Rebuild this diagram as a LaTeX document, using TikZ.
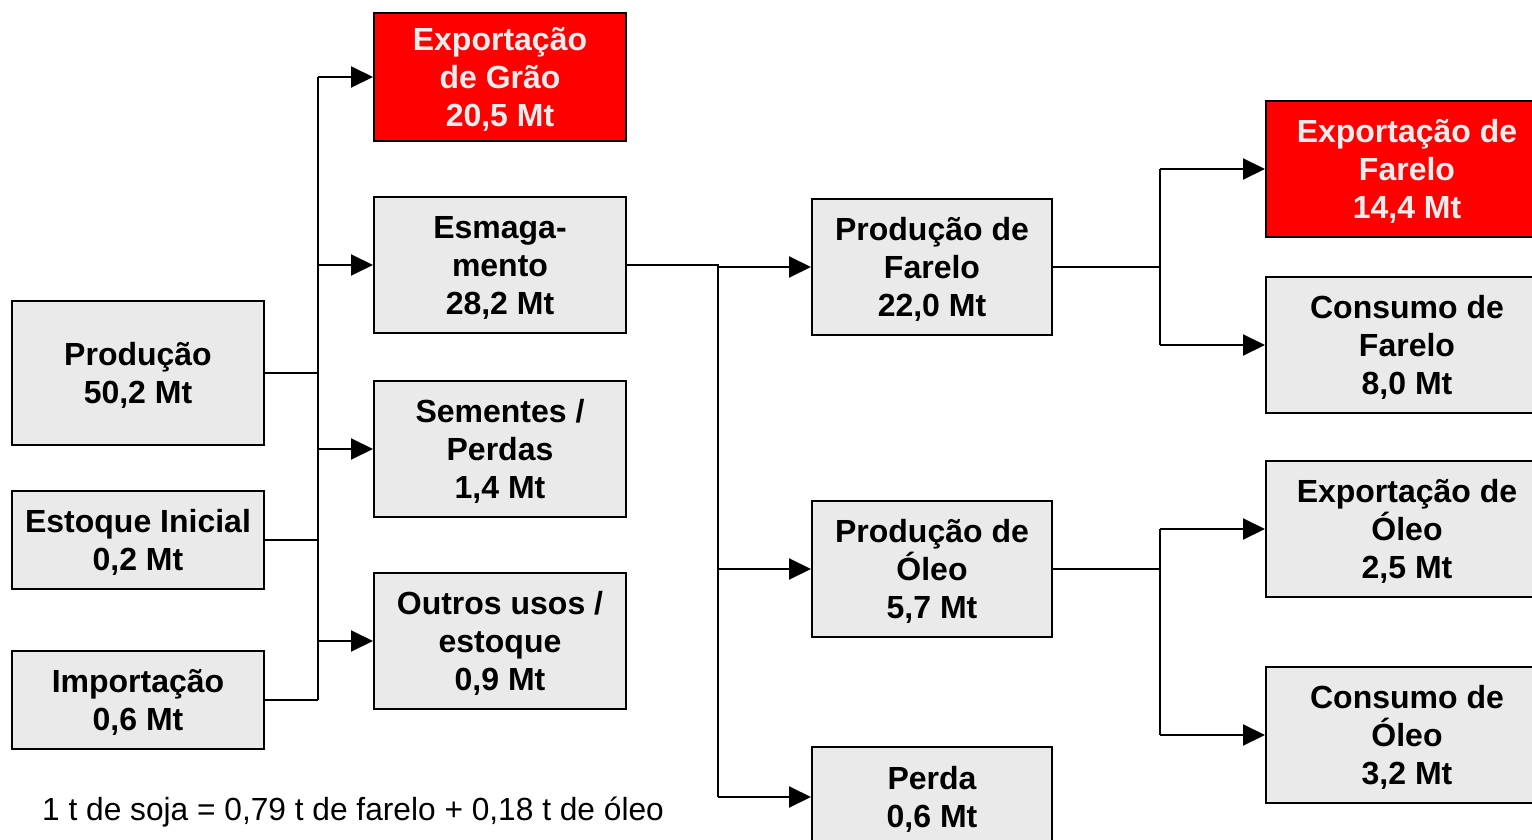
\documentclass[tikz,border=0pt]{standalone}
\usepackage{fontspec}
\setmainfont{Liberation Sans}
\newfontfamily\notefont[FakeStretch=0.99]{Liberation Sans}
\usetikzlibrary{arrows.meta}
\definecolor{boxgray}{HTML}{EAEAEA}
\definecolor{boxred}{HTML}{FF0000}
\definecolor{lighttext}{HTML}{EDEDED}
\begin{document}
\begin{tikzpicture}[x=0.5pt,y=-0.5pt,
  box/.style={draw=black, line width=1pt, fill=boxgray, align=center, inner sep=0pt,
    text depth=0pt,
    font=\fontsize{16pt}{19pt}\selectfont\bfseries, text=black},
  redbox/.style={box, fill=boxred, text=lighttext},
  conn/.style={line width=1pt},
  arr/.style={line width=1pt, -{Triangle[length=11pt,width=10.5pt]}}]
\useasboundingbox (0,0) rectangle (1532,840);
\clip (0,0) rectangle (1532,840);
% left column
\node[box, minimum width=126pt, minimum height=72pt] (prod) at (138,373) {Produção\\50,2 Mt};
\node[box, minimum width=126pt, minimum height=49pt] (est) at (138,540) {Estoque Inicial\\0,2 Mt};
\node[box, minimum width=126pt, minimum height=49pt] (imp) at (138,700) {Importação\\0,6 Mt};
% second column
\node[redbox, minimum width=126pt, minimum height=64pt] (grao) at (500,77) {Exportação\\de Grão\\20,5 Mt};
\node[box, minimum width=126pt, minimum height=68pt] (esm) at (500,265) {Esmaga-\\mento\\28,2 Mt};
\node[box, minimum width=126pt, minimum height=68pt] (sem) at (500,449) {Sementes /\\Perdas\\1,4 Mt};
\node[box, minimum width=126pt, minimum height=68pt] (out) at (500,641) {Outros usos /\\estoque\\0,9 Mt};
% third column
\node[box, minimum width=120pt, minimum height=68pt] (far) at (932,267) {Produção de\\Farelo\\22,0 Mt};
\node[box, minimum width=120pt, minimum height=68pt] (oleo) at (932,569) {Produção de\\Óleo\\5,7 Mt};
\node[box, minimum width=120pt, minimum height=50pt] (perda) at (932,797) {Perda\\0,6 Mt};
% fourth column
\node[redbox, minimum width=141pt, minimum height=68pt] (expf) at (1407,169) {Exportação de\\Farelo\\14,4 Mt};
\node[box, minimum width=141pt, minimum height=68pt] (consf) at (1407,345) {Consumo de\\Farelo\\8,0 Mt};
\node[box, minimum width=141pt, minimum height=68pt] (expo) at (1407,529) {Exportação de\\Óleo\\2,5 Mt};
\node[box, minimum width=141pt, minimum height=68pt] (conso) at (1407,735) {Consumo de\\Óleo\\3,2 Mt};
% junction coordinates
\coordinate (j1) at (318,0);
\coordinate (j2) at (718,0);
\coordinate (j3) at (1160,0);
% first junction
\draw[conn] (prod.east) -- (prod.east -| j1);
\draw[conn] (est.east) -- (est.east -| j1);
\draw[conn] (imp.east) -- (imp.east -| j1);
\draw[conn] (grao.west -| j1) -- (imp.east -| j1);
\draw[arr] (grao.west -| j1) -- (grao.west);
\draw[arr] (esm.west -| j1) -- (esm.west);
\draw[arr] (sem.west -| j1) -- (sem.west);
\draw[arr] (out.west -| j1) -- (out.west);
% second junction
\draw[conn] (esm.east) -- (esm.east -| j2) -- (perda.west -| j2);
\draw[arr] (far.west -| j2) -- (far.west);
\draw[arr] (oleo.west -| j2) -- (oleo.west);
\draw[arr] (perda.west -| j2) -- (perda.west);
% third junctions
\draw[conn] (far.east) -- (far.east -| j3);
\draw[conn] (expf.west -| j3) -- (consf.west -| j3);
\draw[arr] (expf.west -| j3) -- (expf.west);
\draw[arr] (consf.west -| j3) -- (consf.west);
\draw[conn] (oleo.east) -- (oleo.east -| j3);
\draw[conn] (expo.west -| j3) -- (conso.west -| j3);
\draw[arr] (expo.west -| j3) -- (expo.west);
\draw[arr] (conso.west -| j3) -- (conso.west);
% note
\node[inner sep=0pt, font=\notefont\fontsize{16pt}{19pt}\selectfont] (note) at (353,812) {1 t de soja = 0,79 t de farelo + 0,18 t de óleo};
\end{tikzpicture}
\end{document}
